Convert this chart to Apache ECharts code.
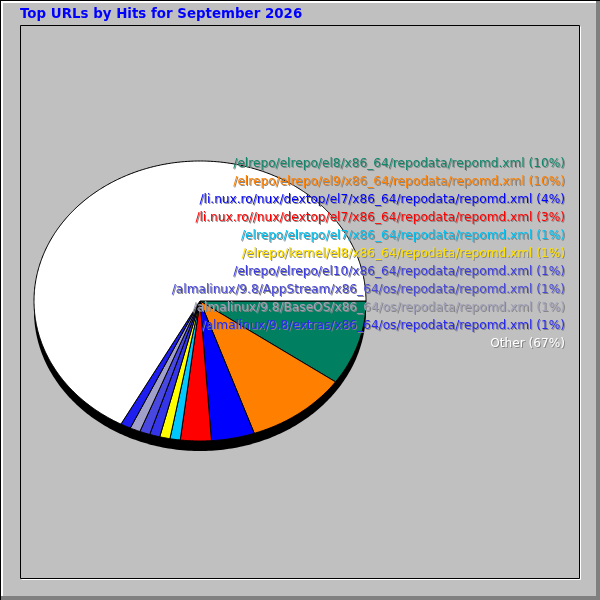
<!DOCTYPE html>
<html><head><meta charset="utf-8">
<script src="https://cdn.jsdelivr.net/npm/echarts@6/dist/echarts.min.js"></script>
<style>html,body{margin:0;padding:0;background:#C0C0C0}#c{width:600px;height:600px}</style>
</head><body><div id="c"></div>
<script>
// ---- data ----
const titleText = 'Top URLs by Hits for September 2026';
const urls = [
  '/elrepo/elrepo/el8/x86_64/repodata/repomd.xml',
  '/elrepo/elrepo/el9/x86_64/repodata/repomd.xml',
  '/li.nux.ro/nux/dextop/el7/x86_64/repodata/repomd.xml',
  '/li.nux.ro//nux/dextop/el7/x86_64/repodata/repomd.xml',
  '/elrepo/elrepo/el7/x86_64/repodata/repomd.xml',
  '/elrepo/kernel/el8/x86_64/repodata/repomd.xml',
  '/elrepo/elrepo/el10/x86_64/repodata/repomd.xml',
  '/almalinux/9.8/AppStream/x86_64/os/repodata/repomd.xml',
  '/almalinux/9.8/BaseOS/x86_64/os/repodata/repomd.xml',
  '/almalinux/9.8/extras/x86_64/os/repodata/repomd.xml',
  'Other'
];
const hitsPct = [9.8, 9.9, 4.2, 3.0, 1.0, 1.0, 1.0, 1.0, 1.0, 1.0, 67.1];
const sliceColors = ['#008060', '#FF8000', '#0000FF', '#FF0000', '#00C8FF', '#FFFF00',
                     '#3434E8', '#4848E0', '#A0A0C8', '#1E1EF0', '#FFFFFF'];
const labelColors = ['#10866A', '#FF8000', '#0000FF', '#FF0000', '#00C0F0', '#FFE000',
                     '#3A3AE0', '#4848D8', '#A0A0B8', '#2828F0', '#FFFFFF'];

// ---- layout ----
const CX = 200, CY = 301, RX = 166, RY = 140, DEPTH = 10;
const LABEL_X = 565, LABEL_Y0 = 164, LABEL_STEP = 18;

const total = hitsPct.reduce((a, b) => a + b, 0);
const starts = [];
let acc = 0;
hitsPct.forEach(v => { starts.push(acc); acc += v; });

function rimPoints() {
  const pts = [];
  for (let d = 0; d <= 180; d++) {
    const a = d * Math.PI / 180;
    pts.push([CX + RX * Math.cos(a), CY + DEPTH + RY * Math.sin(a)]);
  }
  for (let d = 180; d <= 360; d++) {
    const a = d * Math.PI / 180;
    pts.push([CX + RX * Math.cos(a), CY + RY * Math.sin(a)]);
  }
  return pts;
}

function pieRender(params, api) {
  const i = params.dataIndex;
  const v = api.value(0);
  const a0 = starts[i] / total * 2 * Math.PI;
  const a1 = (starts[i] + v) / total * 2 * Math.PI;
  const n = Math.max(2, Math.ceil((a1 - a0) / (Math.PI / 360)));
  const pts = [[CX, CY]];
  for (let k = 0; k <= n; k++) {
    const a = a0 + (a1 - a0) * k / n;
    pts.push([CX + RX * Math.cos(a), CY + RY * Math.sin(a)]);
  }
  return {
    type: 'polygon',
    shape: { points: pts },
    style: { fill: sliceColors[i], stroke: '#000', lineWidth: 1 }
  };
}

function labelRender(params, api) {
  const i = params.dataIndex;
  const pct = Math.round(api.value(0) / total * 100);
  const txt = urls[i] + ' (' + pct + '%)';
  const y = LABEL_Y0 + LABEL_STEP * i;
  const font = '12.15px "DejaVu Sans"';
  return {
    type: 'group',
    children: [
      { type: 'text', x: LABEL_X + 1, y: y + 1,
        style: { text: txt, fill: '#858585', font: font, align: 'right', verticalAlign: 'middle' } },
      { type: 'text', x: LABEL_X, y: y,
        style: { text: txt, fill: labelColors[i], font: font, align: 'right', verticalAlign: 'middle' } }
    ]
  };
}

const chart = echarts.init(document.getElementById('c'), null, { renderer: 'canvas' });
const seriesData = hitsPct.map((v, i) => ({ value: v, name: urls[i] }));

chart.setOption({
  backgroundColor: '#C0C0C0',
  animation: false,
  graphic: [
    // outer bevel
    { type: 'rect', z: 0, shape: { x: 0, y: 0, width: 600, height: 1 }, style: { fill: '#000000' } },
    { type: 'rect', z: 0, shape: { x: 0, y: 1, width: 596, height: 2 }, style: { fill: '#FFFFFF' } },
    { type: 'rect', z: 0, shape: { x: 0, y: 0, width: 1, height: 600 }, style: { fill: '#000000' } },
    { type: 'rect', z: 0, shape: { x: 1, y: 1, width: 2, height: 596 }, style: { fill: '#FFFFFF' } },
    { type: 'rect', z: 0, shape: { x: 596, y: 1, width: 4, height: 599 }, style: { fill: '#808080' } },
    { type: 'rect', z: 0, shape: { x: 1, y: 596, width: 599, height: 4 }, style: { fill: '#808080' } },
    // inner etched box
    { type: 'polyline', z: 0, shape: { points: [[21.5, 579.5], [580.5, 579.5], [580.5, 26.5]] },
      style: { stroke: '#FFFFFF', lineWidth: 1, fill: null } },
    { type: 'rect', z: 0, shape: { x: 20.5, y: 25.5, width: 559, height: 553 },
      style: { stroke: '#000000', lineWidth: 1, fill: null } },
    // pie depth
    { type: 'polygon', z: 1, shape: { points: rimPoints() }, style: { fill: '#000000' } },
    // title
    { type: 'text', z: 5, x: 20, y: 15,
      style: { text: titleText, fill: '#0000FF', font: 'bold 13.4px "DejaVu Sans"', align: 'left', verticalAlign: 'middle' } }
  ],
  series: [
    { type: 'custom', coordinateSystem: 'none', z: 2, data: seriesData, renderItem: pieRender, silent: true },
    { type: 'custom', coordinateSystem: 'none', z: 3, data: seriesData, renderItem: labelRender, silent: true }
  ]
});
</script></body></html>
